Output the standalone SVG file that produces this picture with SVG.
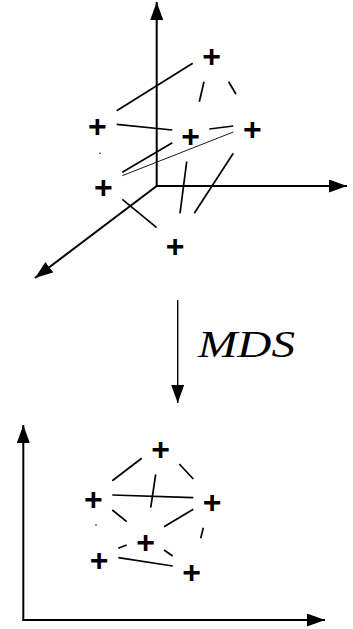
<svg xmlns="http://www.w3.org/2000/svg" width="353" height="629" viewBox="0 0 353 629">
<style>
.ax{stroke:#000;stroke-width:2;fill:none}
.e{stroke:#000;stroke-width:1.7;fill:none;stroke-linecap:butt}
.thin{stroke:#000;stroke-width:0.9;fill:none}
.p{font-family:"Liberation Sans",Arial,sans-serif;font-weight:bold;font-size:32px;text-anchor:middle;fill:#000}
.lbl{font-family:"Liberation Serif","Times New Roman",serif;font-style:italic;font-size:38px;fill:#000}
</style>
<defs>
<marker id="ah" markerUnits="userSpaceOnUse" markerWidth="19" markerHeight="14" refX="18" refY="6.5" orient="auto">
<path d="M0,0 L18,6.5 L0,13 z" fill="#000"/>
</marker>
</defs>
<rect width="353" height="629" fill="#fff"/>
<g id="axes3d">
<line class="ax" x1="156.7" y1="186" x2="156.7" y2="2" marker-end="url(#ah)"/>
<line class="ax" x1="156.7" y1="186" x2="347" y2="186" marker-end="url(#ah)"/>
<line class="ax" x1="156.7" y1="186" x2="35" y2="278" marker-end="url(#ah)"/>
</g>
<g id="axes2d">
<line class="ax" x1="23.3" y1="620" x2="23.3" y2="425" marker-end="url(#ah)"/>
<line class="ax" x1="22.3" y1="620" x2="325" y2="620" marker-end="url(#ah)"/>
</g>
<g id="mds-arrow">
<line x1="177.7" y1="300" x2="177.7" y2="403" stroke="#000" stroke-width="1.4" marker-end="url(#ah)"/>
<text class="lbl" x="198" y="357" textLength="97" lengthAdjust="spacingAndGlyphs">MDS</text>
</g>
<g id="connectors">
<line class="e" x1="116.7" y1="110.7" x2="192.7" y2="63.3"/>
<line class="e" x1="199.3" y1="101.7" x2="204" y2="81.7"/>
<line class="e" x1="228.7" y1="81.7" x2="236" y2="94.3"/>
<line class="e" x1="116.7" y1="124.3" x2="172.3" y2="130"/>
<line class="e" x1="209.3" y1="129" x2="233.3" y2="126"/>
<line class="e" x1="122.3" y1="172.3" x2="172.3" y2="142.7"/>
<line class="thin" x1="122.3" y1="175.7" x2="233.3" y2="132"/>
<line class="e" x1="180" y1="213.3" x2="186.7" y2="161.7"/>
<line class="e" x1="194.3" y1="213.3" x2="233.3" y2="153.3"/>
<line class="e" x1="122.3" y1="199.3" x2="156.7" y2="227.7"/>
<line class="e" x1="112.3" y1="480.7" x2="141.7" y2="458.3"/>
<line class="e" x1="179.3" y1="464" x2="193.3" y2="479"/>
<line class="e" x1="155.7" y1="474.3" x2="150.7" y2="507.7"/>
<line class="e" x1="112.3" y1="495" x2="193.3" y2="497.7"/>
<line class="e" x1="112.3" y1="510" x2="126.7" y2="521.7"/>
<line class="e" x1="164" y1="526.7" x2="193.3" y2="509.3"/>
<line class="e" x1="203.3" y1="527.7" x2="200.7" y2="538.3"/>
<line class="e" x1="118.3" y1="548.3" x2="126.7" y2="545"/>
<line class="e" x1="164" y1="550" x2="172.7" y2="556"/>
<line class="e" x1="118.3" y1="557.7" x2="172.7" y2="566"/>
<circle cx="100" cy="153.3" r="0.8" fill="#000"/>
<circle cx="96" cy="525" r="0.8" fill="#000"/>
</g>
<g id="n1"><text class="p" x="211.7" y="66.7">+</text></g>
<g id="n2"><text class="p" x="97.3" y="137.4">+</text></g>
<g id="n3"><text class="p" x="190.7" y="146.7">+</text></g>
<g id="n4"><text class="p" x="252.3" y="139.7">+</text></g>
<g id="n5"><text class="p" x="103.3" y="198.4">+</text></g>
<g id="n6"><text class="p" x="175" y="257.4">+</text></g>
<g id="m1"><text class="p" x="160.7" y="460">+</text></g>
<g id="m2"><text class="p" x="93.3" y="510">+</text></g>
<g id="m3"><text class="p" x="212" y="513.4">+</text></g>
<g id="m4"><text class="p" x="145.7" y="553">+</text></g>
<g id="m5"><text class="p" x="99" y="571.4">+</text></g>
<g id="m6"><text class="p" x="191.7" y="583.4">+</text></g>
</svg>
